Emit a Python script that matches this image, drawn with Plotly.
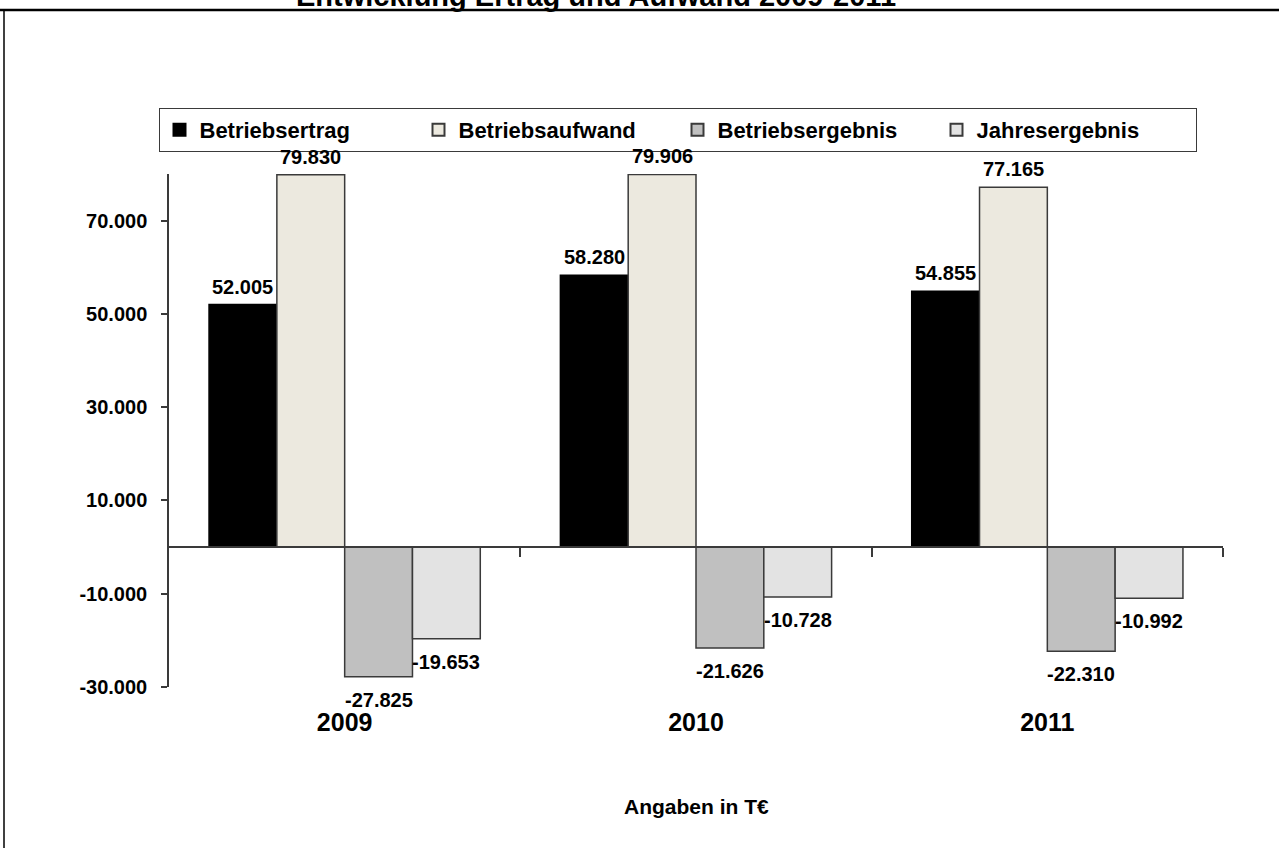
import plotly.graph_objects as go

# ---------------- data ----------------
years = ["2009", "2010", "2011"]
series_names = ["Betriebsertrag", "Betriebsaufwand", "Betriebsergebnis", "Jahresergebnis"]
betriebsertrag = [52005, 58280, 54855]
betriebsaufwand = [79830, 79906, 77165]
betriebsergebnis = [-27825, -21626, -22310]
jahresergebnis = [-19653, -10728, -10992]
ytick_vals = [-30000, -10000, 10000, 30000, 50000, 70000]
y_range = [-30000, 80000]
title_text = "Entwicklung Ertrag und Aufwand 2009-2011"
footer_text = "Angaben in T€"

series_values = [betriebsertrag, betriebsaufwand, betriebsergebnis, jahresergebnis]
colors = ["#000000", "#ECE9DF", "#C0C0C0", "#E3E3E3"]

# ---------------- layout geometry ----------------
W, H = 1279, 848
ML, MR, MT, MB = 169, 56, 174, 161
PW, PH = W - ML - MR, H - MT - MB
BARGAP = 0.228
FONT = "Liberation Sans, Arial, sans-serif"
LINE = "#3a3a3a"


def px_x(px):
    return (px - ML) / PW


def px_y(py):
    return (H - MB - py) / PH


def de(v):
    return f"{v:,}".replace(",", ".")


fig = go.Figure()
for name, vals, col in zip(series_names, series_values, colors):
    fig.add_trace(go.Bar(
        name=name, x=years, y=vals,
        marker=dict(color=col, line=dict(color="#000000" if col == "#000000" else LINE, width=1.5)),
    ))

# data labels
n = len(series_names)
bw = (1 - BARGAP) / n
annotations = []
for i, vals in enumerate(series_values):
    off = (i - (n - 1) / 2) * bw
    for j, v in enumerate(vals):
        annotations.append(dict(
            x=j + off, y=v, xref="x2", yref="y", text=de(v), showarrow=False,
            yanchor="bottom" if v >= 0 else "top",
            yshift=5 if v >= 0 else -10,
            font=dict(family=FONT, size=20, color="#000", weight="bold"),
        ))

annotations.append(dict(
    x=px_x(596), y=px_y(14), xref="paper", yref="paper", text=title_text,
    showarrow=False, yanchor="bottom", xanchor="center",
    font=dict(family=FONT, size=29, color="#000", weight="bold"),
))
annotations.append(dict(
    x=0.5, y=px_y(806), xref="paper", yref="paper", text=footer_text,
    showarrow=False, yanchor="middle", xanchor="center",
    font=dict(family=FONT, size=21, color="#000", weight="bold"),
))

zero_pos = (0 - y_range[0]) / (y_range[1] - y_range[0])
x_lin_range = [-0.5, len(years) - 0.5]
boundaries = [j + 0.5 for j in range(len(years))]

fig.update_layout(
    width=W, height=H,
    margin=dict(l=ML, r=MR, t=MT, b=MB, autoexpand=False),
    paper_bgcolor="white", plot_bgcolor="white",
    barmode="group", bargap=BARGAP, bargroupgap=0,
    font=dict(family=FONT, color="#000"),
    showlegend=True,
    legend=dict(
        orientation="h", x=px_x(677.5), xanchor="center", y=px_y(108), yanchor="top",
        font=dict(family=FONT, size=22, color="#000", weight="bold"),
        bordercolor=LINE, borderwidth=1, bgcolor="white",
        entrywidth=214, entrywidthmode="pixels", itemsizing="constant",
        itemwidth=30,
    ),
    xaxis=dict(
        type="category", range=x_lin_range, showline=False, ticks="",
        showgrid=False, zeroline=False,
        tickfont=dict(family=FONT, size=25, color="#000", weight="bold"),
        ticklabelstandoff=18,
    ),
    xaxis2=dict(
        overlaying="x", anchor="free", position=zero_pos, range=x_lin_range,
        showline=True, linecolor=LINE, linewidth=1.5,
        tickmode="array", tickvals=boundaries, ticks="outside", ticklen=9,
        tickcolor=LINE, tickwidth=1.5, showticklabels=False, showgrid=False, zeroline=False,
    ),
    xaxis3=dict(
        overlaying="x", anchor="free", position=zero_pos, range=x_lin_range,
        showline=False,
        tickmode="array", tickvals=boundaries, ticks="inside", ticklen=9,
        tickcolor=LINE, tickwidth=1.5, showticklabels=False, showgrid=False, zeroline=False,
    ),
    yaxis=dict(
        range=y_range, showline=True, linecolor=LINE, linewidth=1.5,
        tickmode="array", tickvals=ytick_vals, ticktext=[de(v) for v in ytick_vals],
        ticks="outside", ticklen=6, tickcolor=LINE, tickwidth=1.5,
        showgrid=False, zeroline=False, ticklabelstandoff=10,
        tickfont=dict(family=FONT, size=20, color="#000", weight="bold"),
    ),
    yaxis2=dict(
        overlaying="y", anchor="x", range=y_range, showline=False,
        tickmode="array", tickvals=ytick_vals, ticks="inside", ticklen=7,
        tickcolor=LINE, tickwidth=1.5, showticklabels=False, showgrid=False, zeroline=False,
    ),
    annotations=annotations,
    shapes=[
        dict(type="line", xref="paper", yref="paper", x0=px_x(0), x1=px_x(W),
             y0=px_y(10), y1=px_y(10), line=dict(color="#000", width=2.5)),
        dict(type="line", xref="paper", yref="paper", x0=px_x(4), x1=px_x(4),
             y0=px_y(10), y1=px_y(H + 5), line=dict(color="#000", width=1.5)),
    ],
)

fig.write_html("out.html", config={"displayModeBar": False})
